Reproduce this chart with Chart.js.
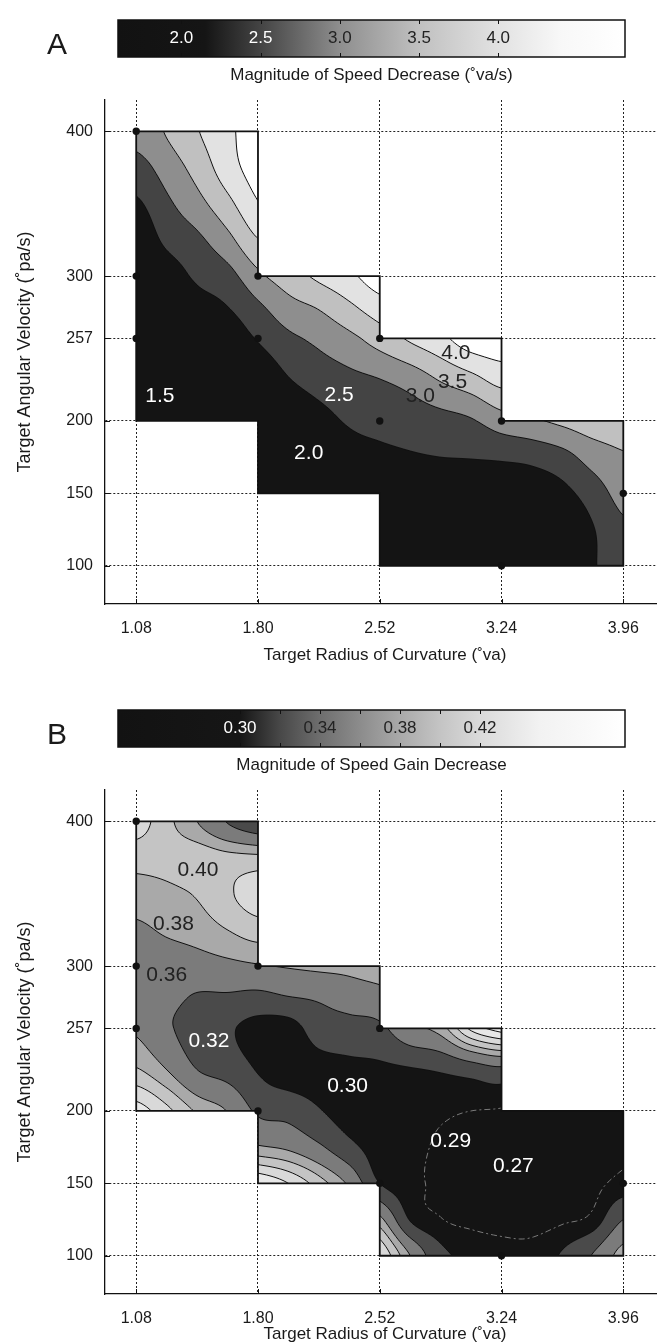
<!DOCTYPE html>
<html>
<head>
<meta charset="utf-8">
<title>Speed decrease and speed gain decrease surfaces</title>
<script src="https://cdn.jsdelivr.net/npm/chart.js@4.4.1/dist/chart.umd.min.js"></script>
<style>
  html, body { margin: 0; padding: 0; background: #fff; }
  body { position: relative; width: 657px; height: 1343px; overflow: hidden; }
  canvas { position: absolute; left: 0; }
</style>
</head>
<body>
<canvas id="plotA" width="700" height="690" style="top:0"></canvas>
<canvas id="barA" width="657" height="100" style="top:0"></canvas>
<canvas id="plotB" width="700" height="653" style="top:690px"></canvas>
<canvas id="barB" width="657" height="100" style="top:690px"></canvas>
<script>
const FONT = "'Liberation Sans', Arial, Helvetica, sans-serif";
const INK = '#1a1a1a';

// ---------- shared design ----------
const xTicks = [1.08, 1.80, 2.52, 3.24, 3.96];
const yTicks = [100, 150, 200, 257, 300, 400];

// tested region: one block per radius step
const blockX0 = [1.08, 1.80, 2.52, 3.24];
const blockX1 = [1.80, 2.52, 3.24, 3.96];
const blockLow = [200, 150, 100, 100];
const blockHigh = [400, 300, 257, 200];

// lattice on which the surfaces are tabulated
const radiusCols = [1.08, 1.26, 1.44, 1.62, 1.80, 1.98, 2.16, 2.34, 2.52, 2.70, 2.88, 3.06, 3.24, 3.42, 3.60, 3.78, 3.96];
const velocityRows = [400, 375, 350, 325, 300, 278.5, 257, 228.5, 200, 175, 150, 125, 100];

// ---------- panel A: magnitude of speed decrease (deg va/s) ----------
const _ = null;
const speedDecrease = [
  [3.19, 3.54, 3.97, 4.36, 4.90, _, _, _, _, _, _, _, _, _, _, _, _],
  [2.81, 3.22, 3.69, 4.27, 4.75, _, _, _, _, _, _, _, _, _, _, _, _],
  [2.42, 2.90, 3.33, 3.86, 4.47, _, _, _, _, _, _, _, _, _, _, _, _],
  [2.11, 2.61, 2.89, 3.35, 3.98, _, _, _, _, _, _, _, _, _, _, _, _],
  [1.85, 2.20, 2.59, 2.82, 3.39, 3.77, 4.10, 4.39, 4.79, _, _, _, _, _, _, _, _],
  [1.65, 1.93, 2.27, 2.49, 2.90, 3.31, 3.54, 3.90, 4.27, _, _, _, _, _, _, _, _],
  [1.48, 1.79, 1.97, 2.15, 2.54, 2.89, 3.11, 3.37, 3.72, 4.07, 4.37, 4.80, 4.85, _, _, _, _],
  [1.40, 1.60, 1.76, 1.87, 2.07, 2.47, 2.71, 2.87, 2.99, 3.19, 3.54, 3.83, 4.17, _, _, _, _],
  [1.35, 1.42, 1.55, 1.68, 1.85, 2.05, 2.30, 2.56, 2.67, 2.74, 2.82, 2.95, 3.28, 3.43, 3.60, 3.76, 3.73],
  [_, _, _, _, 1.69, 1.85, 1.93, 2.25, 2.37, 2.45, 2.50, 2.52, 2.56, 2.63, 2.82, 3.21, 3.45],
  [_, _, _, _, 1.53, 1.70, 1.85, 1.97, 2.07, 2.12, 2.16, 2.18, 2.20, 2.23, 2.36, 2.74, 3.18],
  [_, _, _, _, _, _, _, _, 1.95, 1.98, 1.99, 2.00, 2.00, 2.00, 2.05, 2.47, 2.90],
  [_, _, _, _, _, _, _, _, 1.90, 1.92, 1.93, 1.94, 1.95, 1.95, 1.97, 2.45, 2.75]
];
const levelsA = [2.5, 3.0, 3.5, 4.0, 4.5];
const measuredAx = [1.08, 1.08, 1.08, 1.80, 1.80, 2.52, 2.52, 3.24, 3.24, 3.96];
const measuredAy = [400, 300, 257, 300, 257, 257, 200, 200, 100, 150];
const noteTextA = ['1.5', '2.0', '2.5', '3.0', '3.5', '4.0'];
const noteAx = [1.22, 2.10, 2.28, 2.76, 2.95, 2.97];
const noteAy = [217, 178, 218, 217, 227, 247];
const scaleLabelsA = [2.0, 2.5, 3.0, 3.5, 4.0];
const scaleRangeA = [1.60, 4.80];

// ---------- panel B: magnitude of speed gain decrease ----------
const gainDecrease = [
  [0.420, 0.396, 0.370, 0.338, 0.316, _, _, _, _, _, _, _, _, _, _, _, _],
  [0.398, 0.398, 0.402, 0.397, 0.395, _, _, _, _, _, _, _, _, _, _, _, _],
  [0.381, 0.385, 0.392, 0.407, 0.420, _, _, _, _, _, _, _, _, _, _, _, _],
  [0.366, 0.373, 0.379, 0.390, 0.400, _, _, _, _, _, _, _, _, _, _, _, _],
  [0.356, 0.358, 0.360, 0.364, 0.368, 0.372, 0.375, 0.377, 0.385, _, _, _, _, _, _, _, _],
  [0.353, 0.349, 0.337, 0.336, 0.332, 0.339, 0.344, 0.353, 0.359, _, _, _, _, _, _, _, _],
  [0.366, 0.345, 0.325, 0.314, 0.300, 0.298, 0.324, 0.329, 0.334, 0.362, 0.380, 0.435, 0.460, _, _, _, _],
  [0.392, 0.370, 0.340, 0.328, 0.308, 0.295, 0.300, 0.303, 0.305, 0.308, 0.313, 0.323, 0.333, _, _, _, _],
  [0.440, 0.416, 0.387, 0.369, 0.335, 0.329, 0.312, 0.298, 0.297, 0.298, 0.294, 0.290, 0.288, 0.282, 0.283, 0.284, 0.286],
  [_, _, _, _, 0.373, 0.365, 0.345, 0.318, 0.298, 0.295, 0.287, 0.281, 0.276, 0.274, 0.276, 0.280, 0.288],
  [_, _, _, _, 0.450, 0.430, 0.400, 0.365, 0.310, 0.295, 0.286, 0.279, 0.272, 0.271, 0.275, 0.284, 0.296],
  [_, _, _, _, _, _, _, _, 0.377, 0.308, 0.291, 0.285, 0.282, 0.281, 0.287, 0.296, 0.340],
  [_, _, _, _, _, _, _, _, 0.430, 0.370, 0.318, 0.305, 0.298, 0.298, 0.313, 0.342, 0.380]
];
const levelsB = [0.31, 0.34, 0.37, 0.39, 0.41, 0.43, 0.45];
const dashedLevelB = 0.29;
const measuredBx = [1.08, 1.08, 1.08, 1.80, 1.80, 2.52, 2.52, 3.24, 3.96];
const measuredBy = [400, 300, 257, 300, 200, 257, 150, 100, 150];
const noteTextB = ['0.40', '0.38', '0.36', '0.32', '0.30', '0.29', '0.27'];
const noteBx = [1.445, 1.30, 1.26, 1.51, 2.33, 2.94, 3.31];
const noteBy = [366, 329, 294, 248, 217, 179, 162];
const scaleLabelsB = [0.30, 0.34, 0.38, 0.42];
const scaleTicksB = [0.30, 0.32, 0.34, 0.36, 0.38, 0.40, 0.42];
const scaleRangeB = [0.239, 0.4925];

// ---------- helpers ----------
function hexRgb(h) { const n = parseInt(h.slice(1), 16); return [(n >> 16) & 255, (n >> 8) & 255, n & 255]; }

function fracIndex(arr, v) {
  const n = arr.length;
  for (let k = 0; k < n - 1; k++) {
    const a = arr[k], b = arr[k + 1];
    const lo = Math.min(a, b), hi = Math.max(a, b);
    const before = k === 0 && (a < b ? v < a : v > a);
    if ((v >= lo && v <= hi) || before) return k + (v - a) / (b - a);
  }
  return (n - 2) + (v - arr[n - 2]) / (arr[n - 1] - arr[n - 2]);
}

// Smooth (Catmull-Rom) surface through the tabulated lattice.
function buildSurface(values) {
  const R = velocityRows.length, C = radiusCols.length;
  let g = values.map(r => r.slice());
  // nodes outside the tested region get values carried over from their neighbours
  for (let pass = 0; pass < 60; pass++) {
    let missing = 0;
    const nxt = g.map(r => r.slice());
    for (let r = 0; r < R; r++) for (let c = 0; c < C; c++) {
      if (g[r][c] != null) continue;
      let s = 0, n = 0;
      for (const [dr, dc] of [[1, 0], [-1, 0], [0, 1], [0, -1]]) {
        const r1 = r + dr, c1 = c + dc, r2 = r + 2 * dr, c2 = c + 2 * dc;
        if (r1 < 0 || r1 >= R || c1 < 0 || c1 >= C || g[r1][c1] == null) continue;
        let v = g[r1][c1];
        if (r2 >= 0 && r2 < R && c2 >= 0 && c2 < C && g[r2][c2] != null) v += 0.5 * (g[r1][c1] - g[r2][c2]);
        s += v; n++;
      }
      if (n) nxt[r][c] = s / n; else missing++;
    }
    g = nxt;
    if (!missing) break;
  }
  const cl = (k, n) => (k < 0 ? 0 : (k > n - 1 ? n - 1 : k));
  const cr = (p0, p1, p2, p3, t) => {
    const t2 = t * t, t3 = t2 * t;
    return 0.5 * (2 * p1 + (-p0 + p2) * t + (2 * p0 - 5 * p1 + 4 * p2 - p3) * t2 + (-p0 + 3 * p1 - 3 * p2 + p3) * t3);
  };
  return function (xv, yv) {
    let fx = fracIndex(radiusCols, xv), fy = fracIndex(velocityRows, yv);
    fx = Math.min(Math.max(fx, 0), C - 1.000001);
    fy = Math.min(Math.max(fy, 0), R - 1.000001);
    const i = Math.floor(fx), j = Math.floor(fy), tx = fx - i, ty = fy - j;
    const v = [];
    for (let m = -1; m <= 2; m++) {
      const row = g[cl(j + m, R)];
      v.push(cr(row[cl(i - 1, C)], row[i], row[cl(i + 1, C)], row[cl(i + 2, C)], tx));
    }
    return cr(v[0], v[1], v[2], v[3], ty);
  };
}

// Marching squares, joined into polylines.
function traceLevel(vals, nx, ny, level) {
  const pts = new Map();
  const segs = [];
  const keyOf = (kind, i, j) => ((j * nx + i) * 2 + kind);
  const add = (e) => {
    const [kind, i, j] = e;
    const k = keyOf(kind, i, j);
    if (!pts.has(k)) {
      if (kind === 0) { const a = vals[j * nx + i], b = vals[j * nx + i + 1]; pts.set(k, [i + (level - a) / (b - a), j]); }
      else { const a = vals[j * nx + i], b = vals[(j + 1) * nx + i]; pts.set(k, [i, j + (level - a) / (b - a)]); }
    }
    return k;
  };
  for (let j = 0; j < ny - 1; j++) for (let i = 0; i < nx - 1; i++) {
    const a = vals[j * nx + i], b = vals[j * nx + i + 1], c = vals[(j + 1) * nx + i + 1], d = vals[(j + 1) * nx + i];
    const idx = (a >= level ? 8 : 0) | (b >= level ? 4 : 0) | (c >= level ? 2 : 0) | (d >= level ? 1 : 0);
    if (idx === 0 || idx === 15) continue;
    const T = [0, i, j], Rt = [1, i + 1, j], Bt = [0, i, j + 1], Lt = [1, i, j];
    const mid = (a + b + c + d) / 4 >= level;
    let pairs;
    switch (idx) {
      case 1: case 14: pairs = [[Lt, Bt]]; break;
      case 2: case 13: pairs = [[Bt, Rt]]; break;
      case 3: case 12: pairs = [[Lt, Rt]]; break;
      case 4: case 11: pairs = [[T, Rt]]; break;
      case 6: case 9: pairs = [[T, Bt]]; break;
      case 7: case 8: pairs = [[T, Lt]]; break;
      case 5: pairs = mid ? [[T, Lt], [Bt, Rt]] : [[T, Rt], [Lt, Bt]]; break;
      case 10: pairs = mid ? [[T, Rt], [Lt, Bt]] : [[T, Lt], [Bt, Rt]]; break;
    }
    for (const [e1, e2] of pairs) segs.push([add(e1), add(e2)]);
  }
  const byKey = new Map();
  segs.forEach((s, n) => s.forEach(k => { if (!byKey.has(k)) byKey.set(k, []); byKey.get(k).push(n); }));
  const used = new Uint8Array(segs.length);
  const polys = [];
  for (let n = 0; n < segs.length; n++) {
    if (used[n]) continue;
    used[n] = 1;
    const chain = [segs[n][0], segs[n][1]];
    for (let dir = 0; dir < 2; dir++) {
      for (;;) {
        const end = chain[chain.length - 1];
        const cand = (byKey.get(end) || []).find(m => !used[m]);
        if (cand === undefined) break;
        used[cand] = 1;
        const s = segs[cand];
        chain.push(s[0] === end ? s[1] : s[0]);
      }
      chain.reverse();
    }
    polys.push(chain.map(k => pts.get(k)));
  }
  return polys;
}

// Filled contour bands, contour lines and the outline of the tested region.
function surfacePlugin(spec) {
  const surf = buildSurface(spec.values);
  return {
    id: 'surface',
    beforeDatasetsDraw(chart) {
      const { ctx, scales: { x, y } } = chart;
      const blocks = blockX0.map((x0, k) => ({
        l: x.getPixelForValue(x0), r: x.getPixelForValue(blockX1[k]),
        t: y.getPixelForValue(blockHigh[k]), b: y.getPixelForValue(blockLow[k])
      }));
      const L = Math.floor(Math.min(...blocks.map(b => b.l))) - 2;
      const Rr = Math.ceil(Math.max(...blocks.map(b => b.r))) + 2;
      const T = Math.floor(Math.min(...blocks.map(b => b.t))) - 2;
      const B = Math.ceil(Math.max(...blocks.map(b => b.b))) + 2;
      const W = Rr - L, H = B - T;

      const off = document.createElement('canvas');
      off.width = W; off.height = H;
      const octx = off.getContext('2d');
      const img = octx.createImageData(W, H);
      const rgb = spec.bandColors.map(hexRgb);
      const xs = [], ys = [];
      for (let i = 0; i < W; i++) xs.push(x.getValueForPixel(L + i + 0.5));
      for (let j = 0; j < H; j++) ys.push(y.getValueForPixel(T + j + 0.5));
      for (let j = 0; j < H; j++) for (let i = 0; i < W; i++) {
        const v = surf(xs[i], ys[j]);
        let k = 0;
        while (k < spec.levels.length && v >= spec.levels[k]) k++;
        const p = (j * W + i) * 4, c = rgb[k];
        img.data[p] = c[0]; img.data[p + 1] = c[1]; img.data[p + 2] = c[2]; img.data[p + 3] = 255;
      }
      octx.putImageData(img, 0, 0);

      ctx.save();
      ctx.beginPath();
      blocks.forEach(b => ctx.rect(b.l, b.t, b.r - b.l, b.b - b.t));
      ctx.clip();
      ctx.drawImage(off, L, T);

      const s = 2;
      const nx = Math.ceil(W / s) + 1, ny = Math.ceil(H / s) + 1;
      const vals = new Float64Array(nx * ny);
      for (let j = 0; j < ny; j++) {
        const yv = y.getValueForPixel(T + j * s);
        for (let i = 0; i < nx; i++) vals[j * nx + i] = surf(x.getValueForPixel(L + i * s), yv);
      }
      ctx.lineJoin = 'round';
      ctx.lineCap = 'butt';
      spec.lines.forEach(ln => {
        ctx.strokeStyle = ln.color;
        ctx.lineWidth = ln.width;
        ctx.setLineDash(ln.dash || []);
        traceLevel(vals, nx, ny, ln.level).forEach(poly => {
          ctx.beginPath();
          poly.forEach((q, n) => {
            const px = L + q[0] * s, py = T + q[1] * s;
            if (n) ctx.lineTo(px, py); else ctx.moveTo(px, py);
          });
          ctx.stroke();
        });
      });
      ctx.restore();

      // outline
      ctx.save();
      ctx.beginPath();
      ctx.moveTo(blocks[0].l, blocks[0].t);
      blocks.forEach((b, k) => {
        ctx.lineTo(b.r, b.t);
        if (k + 1 < blocks.length) ctx.lineTo(b.r, blocks[k + 1].t);
      });
      const last = blocks[blocks.length - 1];
      ctx.lineTo(last.r, last.b);
      for (let k = blocks.length - 1; k >= 0; k--) {
        ctx.lineTo(blocks[k].l, blocks[k].b);
        if (k > 0) ctx.lineTo(blocks[k].l, blocks[k - 1].b);
      }
      ctx.closePath();
      ctx.lineWidth = 1.8;
      ctx.strokeStyle = '#111';
      ctx.lineJoin = 'miter';
      ctx.stroke();
      ctx.restore();
    },
    afterDatasetsDraw(chart) {
      const { ctx, scales: { x, y } } = chart;
      ctx.save();
      ctx.font = '21px ' + FONT;
      ctx.textAlign = 'center';
      ctx.textBaseline = 'middle';
      spec.notes.forEach((t, k) => {
        ctx.fillStyle = spec.noteInk[k];
        ctx.fillText(t, x.getPixelForValue(spec.noteX[k]), y.getPixelForValue(spec.noteY[k]));
      });
      ctx.restore();
    },
    afterDraw(chart) {
      // short inward tick marks on both axes
      const { ctx, chartArea: a, scales: { x, y } } = chart;
      ctx.save();
      ctx.strokeStyle = '#111';
      ctx.lineWidth = 1;
      ctx.beginPath();
      xTicks.forEach(v => {
        const px = Math.round(x.getPixelForValue(v)) + 0.5;
        ctx.moveTo(px, a.bottom); ctx.lineTo(px, a.bottom - 5);
      });
      yTicks.forEach(v => {
        const py = Math.round(y.getPixelForValue(v)) + 0.5;
        ctx.moveTo(a.left, py); ctx.lineTo(a.left + 5, py);
      });
      ctx.stroke();
      ctx.restore();
    }
  };
}

function plotChart(id, canvasH, spec) {
  const axisFont = { family: FONT, size: 16 };
  const titleFont = { family: FONT, size: 17 };
  return new Chart(document.getElementById(id), {
    type: 'scatter',
    data: {
      datasets: [{
        data: spec.px.map((v, k) => ({ x: v, y: spec.py[k] })),
        pointRadius: 3.7, pointHoverRadius: 3.7,
        pointBackgroundColor: '#111', pointBorderWidth: 0
      }]
    },
    options: {
      responsive: false, animation: false, events: [],
      layout: { padding: { top: 100, right: 35, left: 0, bottom: 0 } },
      plugins: { legend: { display: false }, tooltip: { enabled: false } },
      scales: {
        x: {
          type: 'linear', min: 0.8955, max: 4.2066,
          afterBuildTicks: s => { s.ticks = xTicks.map(v => ({ value: v })); },
          afterFit: s => { s.height = canvasH - 604; },
          ticks: { callback: v => v.toFixed(2), font: axisFont, color: INK, padding: 15, maxRotation: 0, autoSkip: false },
          grid: { color: '#222', lineWidth: 1, drawTicks: false },
          border: { display: true, color: '#111', width: 1.3, dash: [2, 2] },
          title: { display: true, text: 'Target Radius of Curvature (˚va)', font: titleFont, color: INK,
                   padding: { top: 0, bottom: spec.xTitlePad } }
        },
        y: {
          type: 'linear', min: 73.6, max: 421.6,
          afterBuildTicks: s => { s.ticks = yTicks.map(v => ({ value: v })); },
          afterFit: s => { s.width = 105; },
          ticks: { callback: v => String(v), font: axisFont, color: INK, padding: 12, autoSkip: false },
          grid: { color: '#222', lineWidth: 1, drawTicks: false },
          border: { display: true, color: '#111', width: 1.3, dash: [2, 2] },
          title: { display: true, text: 'Target Angular Velocity (˚pa/s)', font: { family: FONT, size: 18 }, color: INK,
                   padding: { top: 14, bottom: 0 } }
        }
      }
    },
    plugins: [surfacePlugin(spec)]
  });
}

function colorbarPlugin(spec) {
  return {
    id: 'colorbar',
    afterDraw(chart) {
      const { ctx, chartArea: a, scales: { x } } = chart;
      const w = a.right - a.left;
      const grad = ctx.createLinearGradient(a.left, 0, a.right, 0);
      spec.stops.forEach((v, k) => {
        const f = (x.getPixelForValue(v) - a.left) / w;
        grad.addColorStop(Math.min(1, Math.max(0, f)), spec.stopColors[k]);
      });
      ctx.save();
      ctx.fillStyle = grad;
      ctx.fillRect(a.left, a.top, w, a.bottom - a.top);
      ctx.strokeStyle = '#111';
      ctx.lineWidth = 1;
      spec.ticks.forEach(v => {
        const px = Math.round(x.getPixelForValue(v)) + 0.5;
        ctx.beginPath();
        ctx.moveTo(px, a.top); ctx.lineTo(px, a.top + 4);
        ctx.moveTo(px, a.bottom); ctx.lineTo(px, a.bottom - 4);
        ctx.stroke();
      });
      ctx.lineWidth = 1.5;
      ctx.strokeRect(a.left, a.top, w, a.bottom - a.top);
      ctx.textAlign = 'center';
      ctx.textBaseline = 'middle';
      ctx.font = '17px ' + FONT;
      spec.labels.forEach((v, k) => {
        ctx.fillStyle = spec.labelInk[k];
        ctx.fillText(v.toFixed(spec.digits), x.getPixelForValue(v), (a.top + a.bottom) / 2);
      });
      ctx.fillStyle = INK;
      ctx.font = '17px ' + FONT;
      ctx.fillText(spec.caption, (a.left + a.right) / 2, a.bottom + 18);
      ctx.font = '30px ' + FONT;
      ctx.fillText(spec.letter, 57, 46);
      ctx.restore();
    }
  };
}

function colorbarChart(id, range, spec) {
  return new Chart(document.getElementById(id), {
    type: 'scatter',
    data: { datasets: [] },
    options: {
      responsive: false, animation: false, events: [],
      layout: { padding: { left: 118, right: 32, top: 20, bottom: 43 } },
      plugins: { legend: { display: false }, tooltip: { enabled: false } },
      scales: { x: { type: 'linear', min: range[0], max: range[1], display: false }, y: { display: false } }
    },
    plugins: [colorbarPlugin(spec)]
  });
}

// ---------- panel A ----------
plotChart('plotA', 690, {
  values: speedDecrease,
  levels: levelsA,
  bandColors: ['#141414', '#444444', '#8e8e8e', '#c0c0c0', '#e2e2e2', '#ffffff'],
  lines: levelsA.map(l => ({ level: l, color: '#111', width: 1 })),
  px: measuredAx, py: measuredAy,
  notes: noteTextA, noteX: noteAx, noteY: noteAy,
  noteInk: ['#fff', '#fff', '#fff', '#222', '#222', '#222'],
  xTitlePad: 24
});
colorbarChart('barA', scaleRangeA, {
  stops: [1.60, 2.15, 2.5, 3.0, 3.5, 4.0, 4.4, 4.8],
  stopColors: ['#121212', '#151515', '#444444', '#8e8e8e', '#c0c0c0', '#e2e2e2', '#f8f8f8', '#ffffff'],
  ticks: scaleLabelsA, labels: scaleLabelsA, digits: 1,
  labelInk: ['#fff', '#fff', '#222', '#222', '#222'],
  caption: 'Magnitude of Speed Decrease (˚va/s)', letter: 'A'
});

// ---------- panel B ----------
plotChart('plotB', 653, {
  values: gainDecrease,
  levels: levelsB,
  bandColors: ['#141414', '#4a4a4a', '#7b7b7b', '#a9a9a9', '#c4c4c4', '#d9d9d9', '#e8e8e8', '#f4f4f4'],
  lines: levelsB.map(l => ({ level: l, color: '#111', width: 1 }))
          .concat([{ level: dashedLevelB, color: '#7a7a7a', width: 1, dash: [6, 3, 2, 3] }]),
  px: measuredBx, py: measuredBy,
  notes: noteTextB, noteX: noteBx, noteY: noteBy,
  noteInk: ['#222', '#222', '#222', '#fff', '#fff', '#fff', '#fff'],
  xTitlePad: -2
});
colorbarChart('barB', scaleRangeB, {
  stops: [0.239, 0.300, 0.320, 0.340, 0.360, 0.380, 0.400, 0.420, 0.450, 0.4925],
  stopColors: ['#121212', '#161616', '#484848', '#6e6e6e', '#8c8c8c', '#a9a9a9', '#c4c4c4', '#dadada', '#f2f2f2', '#ffffff'],
  ticks: scaleTicksB, labels: scaleLabelsB, digits: 2,
  labelInk: ['#fff', '#222', '#222', '#222'],
  caption: 'Magnitude of Speed Gain Decrease', letter: 'B'
});
</script>
</body>
</html>
